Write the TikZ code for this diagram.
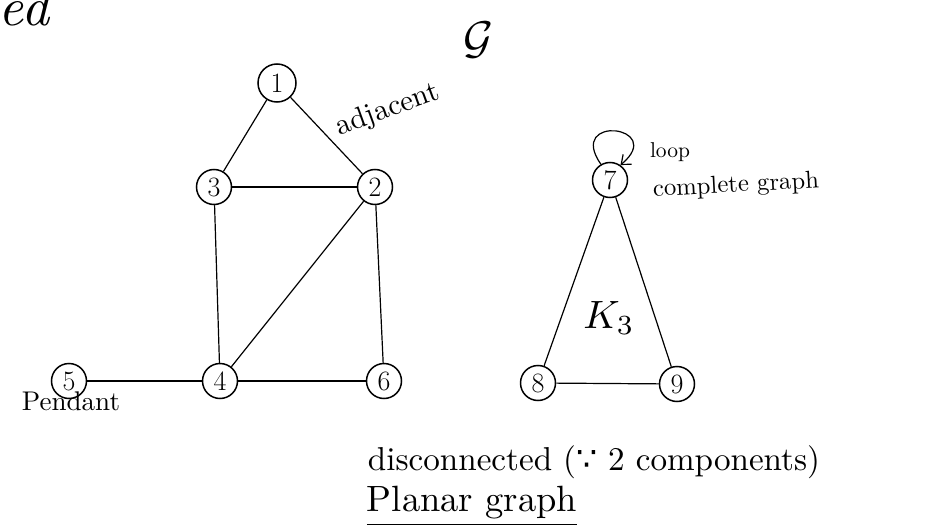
\documentclass[tikz,border=0pt]{standalone}
\usepackage{fontspec}
\usepackage{graphicx}
\usetikzlibrary{arrows.meta}
\newfontfamily\symfont{DejaVu Sans}
\begin{document}
\begin{tikzpicture}[x=1pt,y=-1pt,
  vtx/.style={circle,draw,line width=1.5pt,minimum size=35pt,inner sep=0pt,font=\fontsize{28}{28}\selectfont},
  edg/.style={line width=1.2pt},
  lbl/.style={inner sep=0pt,anchor=center}]
\useasboundingbox (0,0) rectangle (929,532);
\clip (0,0) rectangle (929,532);
% partial word at top-left
\node[lbl] (ed) at (24,7) {\resizebox{50pt}{!}{\itshape ed}};
\node[lbl] (G) at (478,40) {\resizebox{30pt}{!}{$\mathcal{G}$}};
% first component
\node[vtx,minimum size=38pt] (n1) at (277,83) {1};
\node[vtx] (n3) at (214,187) {3};
\node[vtx] (n2) at (375,187) {2};
\node[vtx] (n5) at (69,381) {5};
\node[vtx] (n4) at (220,381) {4};
\node[vtx] (n6) at (384,381) {6};
\draw[edg] (n1) -- (n3);
\draw[edg] (n1) -- (n2);
\draw[edg] (n3) -- (n2);
\draw[edg] (n3) -- (n4);
\draw[edg] (n2) -- (n4);
\draw[edg] (n2) -- (n6);
\draw[edg] (n4) -- (n6);
\draw[edg] (n5) -- (n4);
% second component
\node[vtx] (n7) at (610,180) {7};
\node[vtx] (n8) at (538,383) {8};
\node[vtx] (n9) at (677,384) {9};
\draw[edg] (n7) -- (n8);
\draw[edg] (n7) -- (n9);
\draw[edg] (n8) -- (n9);
\draw[edg,-{Straight Barb[length=8pt,width=13pt]}] (n7.120) to[out=125,in=40,looseness=8] (n7.55);
% labels
\node[lbl,rotate=20] (adj) at (388,110) {\resizebox{108pt}{!}{adjacent}};
\node[lbl] (loop) at (670,152) {\resizebox{40pt}{!}{loop}};
\node[lbl] (K3) at (609,318) {\resizebox{!}{27pt}{$K_3$}};
\node[lbl,rotate=3] (cg) at (736,186) {\resizebox{166pt}{!}{complete graph}};
\node[lbl] (pend) at (71,401) {\resizebox{98pt}{!}{Pendant}};
\node[lbl] (disc) at (594,462) {\resizebox{452pt}{!}{disconnected ({\symfont ∵} 2 components)}};
\node[lbl] (plan) at (472,503) {\resizebox{210pt}{!}{Planar graph}};
\draw[line width=1.1pt] (plan.south west) ++(0,5) -- ++(210,0);
\end{tikzpicture}
\end{document}
